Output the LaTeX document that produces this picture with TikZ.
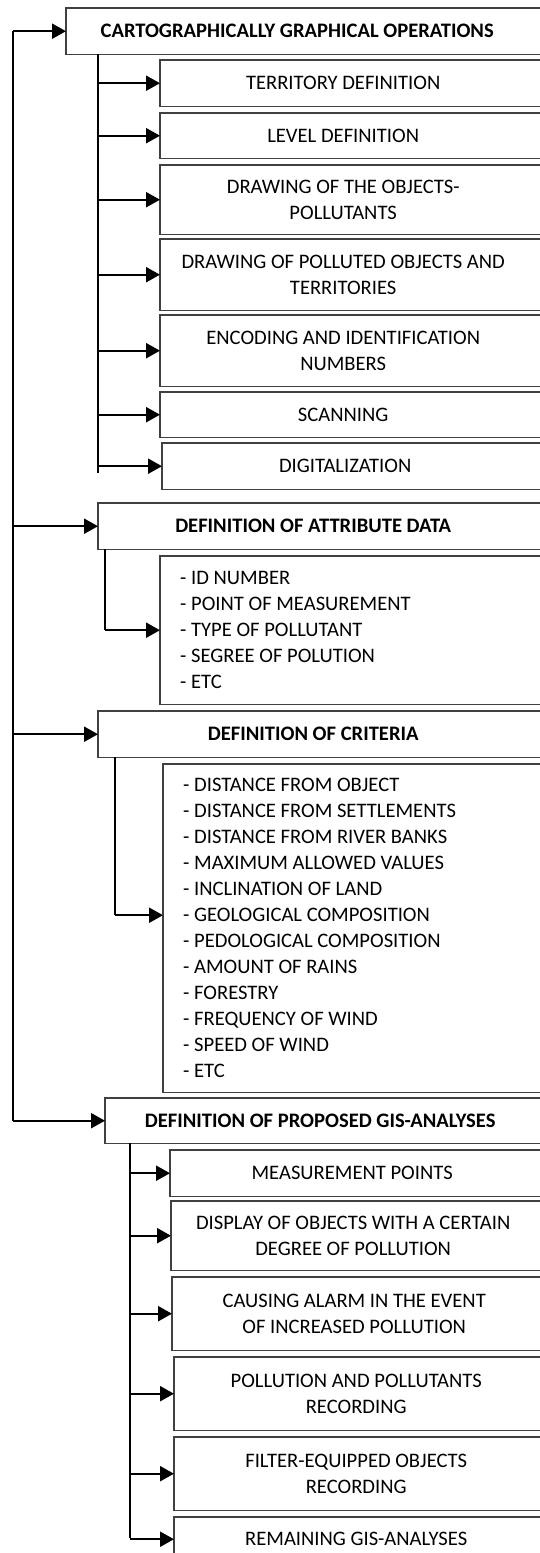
\documentclass[tikz,border=0pt]{standalone}
\usepackage{fontspec}
\setmainfont{Carlito}
\usetikzlibrary{arrows.meta}

\begin{document}
\begin{tikzpicture}[x=1pt,y=-1pt,
  every node/.style={font=\fontsize{20.6}{25.5}\selectfont,anchor=north west,inner sep=0pt,align=center},
  openbox/.style={minimum height=#1,append after command={\pgfextra{\draw[black!75,line width=1.2pt]
      ([xshift=40pt]\tikzlastnode.north east) -| (\tikzlastnode.south west) -- ([xshift=40pt]\tikzlastnode.south east);}}},
  head/.style={openbox=#1,minimum width=430pt,font=\fontsize{20.6}{25.5}\selectfont\bfseries},
  item/.style={openbox=#1,minimum width=366pt},
  gisitem/.style={openbox=#1,minimum width=364pt},
  listbox/.style={openbox=#1,text width=360pt,inner xsep=20pt,align=flush left,font=\fontsize{20.6}{26}\selectfont},
  spine/.style={line width=1.3pt},
  arr/.style={line width=2.2pt,-{Triangle[length=14pt,width=15pt]}}]
  \useasboundingbox (0,0) rectangle (540,1553);
  \clip (0,0) rectangle (540,1553);

  \node[head=46pt,minimum width=462pt] (cart) at (66,8) {CARTOGRAPHICALLY GRAPHICAL OPERATIONS};
  \node[item=46pt] (ter) at (160,60) {TERRITORY DEFINITION};
  \node[item=45pt] (lev) at (160,113) {LEVEL DEFINITION};
  \node[item=69pt] (obj) at (160,165) {DRAWING OF THE OBJECTS-\\POLLUTANTS};
  \node[item=71pt] (pol) at (160,239) {DRAWING OF POLLUTED OBJECTS AND\\TERRITORIES};
  \node[item=71pt] (enc) at (160,315) {ENCODING AND IDENTIFICATION\\NUMBERS};
  \node[item=45pt] (scn) at (160,392) {SCANNING};
  \node[item=46pt] (dig) at (162,443) {DIGITALIZATION};

  \node[head=46pt] (att) at (98,503) {DEFINITION OF ATTRIBUTE DATA};
  \node[listbox=148pt] (attl) at (160,556) {- ID NUMBER\\- POINT OF MEASUREMENT\\- TYPE OF POLLUTANT\\- SEGREE OF POLUTION\\- ETC};

  \node[head=46pt] (crit) at (98,711) {DEFINITION OF CRITERIA};
  \node[listbox=328pt] (critl) at (163,764) {- DISTANCE FROM OBJECT\\- DISTANCE FROM SETTLEMENTS\\- DISTANCE FROM RIVER BANKS\\- MAXIMUM ALLOWED VALUES\\- INCLINATION OF LAND\\- GEOLOGICAL COMPOSITION\\- PEDOLOGICAL COMPOSITION\\- AMOUNT OF RAINS\\- FORESTRY\\- FREQUENCY OF WIND\\- SPEED OF WIND\\- ETC};

  \node[head=45pt] (gis) at (105,1098) {DEFINITION OF PROPOSED GIS-ANALYSES};
  \node[gisitem=46pt] (mp) at (170,1150) {MEASUREMENT POINTS};
  \node[gisitem=69pt] (disp) at (171,1201) {DISPLAY OF OBJECTS WITH A CERTAIN\\DEGREE OF POLLUTION};
  \node[gisitem=73pt] (alarm) at (172,1277) {CAUSING ALARM IN THE EVENT\\OF INCREASED POLLUTION};
  \node[gisitem=73pt] (rec) at (174,1357) {POLLUTION AND POLLUTANTS\\RECORDING};
  \node[gisitem=73pt] (filt) at (174,1437) {FILTER-EQUIPPED OBJECTS\\RECORDING};
  \node[gisitem=44pt] (rem) at (174,1517) {REMAINING GIS-ANALYSES};

  \coordinate (m0) at (13,31);
  \draw[spine] (m0) -- (m0 |- gis.west);
  \foreach \h in {cart,att,crit,gis}
    \draw[arr] (m0 |- \h.west) -- (\h.west);

  \coordinate (s1) at (98,54);
  \coordinate (s1e) at (98,473);
  \draw[spine] (s1) -- (s1e);
  \foreach \n in {ter,lev,obj,pol,enc,scn,dig}
    \draw[arr] (s1 |- \n.west) -- (\n.west);

  \coordinate (a1) at (105,549);
  \draw[spine] (a1) -- (a1 |- attl.west);
  \draw[arr] (a1 |- attl.west) -- (attl.west);

  \coordinate (c1) at (115,757);
  \coordinate (c2) at ([yshift=13pt]critl.west);
  \draw[spine] (c1) -- (c1 |- c2);
  \draw[arr] (c1 |- c2) -- (c2);

  \coordinate (g1) at (130,1143);
  \coordinate (g1e) at (130,1538);
  \draw[spine] (g1) -- (g1e);
  \foreach \n in {mp,disp,alarm,rec,filt,rem}
    \draw[arr] (g1 |- \n.west) -- (\n.west);
\end{tikzpicture}
\end{document}
